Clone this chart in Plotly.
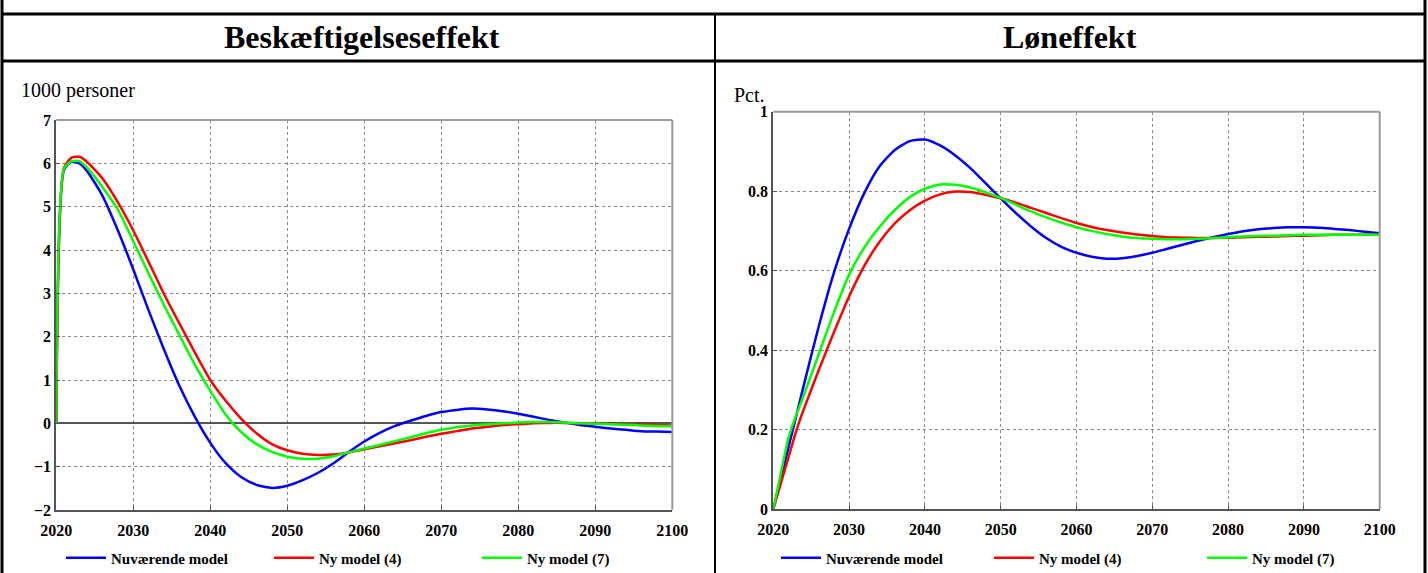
import plotly.graph_objects as go

W, H = 1428, 573

# ---------------- data ----------------
years = [2020, 2021, 2022, 2023, 2024, 2026, 2028, 2030, 2032, 2034, 2036, 2038, 2040,
         2042, 2044, 2046, 2048, 2050, 2052, 2054, 2056, 2058, 2060, 2062, 2064, 2066,
         2068, 2070, 2072, 2074, 2076, 2078, 2080, 2082, 2084, 2086, 2088, 2090, 2092,
         2094, 2096, 2098, 2100]

emp_current = [0, 5.85, 6.04, 6.0, 5.82, 5.25, 4.45, 3.55, 2.6, 1.7, 0.86, 0.15, -0.45,
               -0.92, -1.24, -1.42, -1.49, -1.44, -1.31, -1.14, -0.92, -0.66, -0.42, -0.22, -0.06, 0.06,
               0.17, 0.26, 0.31, 0.34, 0.32, 0.28, 0.22, 0.15, 0.08, 0.02, -0.04, -0.08, -0.12,
               -0.15, -0.18, -0.19, -0.2]
emp_new4 = [0, 5.9, 6.13, 6.15, 6.03, 5.65, 5.1, 4.45, 3.72, 2.98, 2.3, 1.63, 1.0,
            0.52, 0.11, -0.23, -0.48, -0.62, -0.7, -0.73, -0.72, -0.67, -0.6, -0.53, -0.46, -0.39,
            -0.31, -0.24, -0.18, -0.12, -0.08, -0.04, -0.02, 0.0, 0.01, 0.01, 0.0, 0.0, -0.01,
            -0.02, -0.03, -0.04, -0.05]
emp_new7 = [0, 5.88, 6.05, 6.05, 5.9, 5.45, 4.93, 4.2, 3.45, 2.72, 2.03, 1.35, 0.75,
            0.2, -0.2, -0.48, -0.66, -0.77, -0.815, -0.815, -0.76, -0.67, -0.58, -0.5, -0.41, -0.32,
            -0.23, -0.15, -0.09, -0.05, -0.02, 0.0, 0.02, 0.03, 0.03, 0.02, 0.0, -0.01, -0.02,
            -0.03, -0.05, -0.06, -0.07]

wage_current = [0, 0.077, 0.155, 0.232, 0.31, 0.46, 0.595, 0.705, 0.795, 0.862, 0.903, 0.926, 0.93,
                0.915, 0.89, 0.858, 0.82, 0.782, 0.745, 0.711, 0.682, 0.66, 0.645, 0.635, 0.63, 0.631,
                0.637, 0.645, 0.655, 0.665, 0.675, 0.684, 0.692, 0.699, 0.704, 0.707, 0.709, 0.709, 0.708,
                0.705, 0.702, 0.698, 0.694]
wage_new4 = [0, 0.065, 0.13, 0.195, 0.25, 0.35, 0.445, 0.535, 0.612, 0.672, 0.718, 0.752, 0.776,
             0.792, 0.799, 0.798, 0.791, 0.782, 0.771, 0.758, 0.745, 0.732, 0.72, 0.71, 0.702, 0.696,
             0.691, 0.687, 0.684, 0.683, 0.682, 0.682, 0.683, 0.684, 0.685, 0.686, 0.687, 0.688, 0.689,
             0.69, 0.69, 0.69, 0.69]
wage_new7 = [0, 0.09, 0.18, 0.235, 0.285, 0.39, 0.495, 0.59, 0.658, 0.71, 0.752, 0.785, 0.806,
             0.817, 0.816, 0.809, 0.797, 0.783, 0.766, 0.749, 0.734, 0.721, 0.709, 0.7, 0.692, 0.686,
             0.682, 0.68, 0.679, 0.679, 0.68, 0.682, 0.684, 0.686, 0.687, 0.688, 0.689, 0.69, 0.69,
             0.69, 0.69, 0.69, 0.69]

series_names = ["Nuværende model", "Ny model (4)", "Ny model (7)"]
colors = ["#0000FF", "#FF0000", "#00FF00"]
x_ticks = [2020, 2030, 2040, 2050, 2060, 2070, 2080, 2090, 2100]
emp_ticks = [-2, -1, 0, 1, 2, 3, 4, 5, 6, 7]
wage_ticks = [0, 0.2, 0.4, 0.6, 0.8, 1]
wage_tick_text = ["0", "0.2", "0.4", "0.6", "0.8", "1"]

# ---------------- helpers ----------------
def px(x):
    return x / W

def py(y):
    return 1 - y / H

fig = go.Figure()

for name, col, vals in zip(series_names, colors, [emp_current, emp_new4, emp_new7]):
    fig.add_trace(go.Scatter(x=years, y=vals, name=name, mode="lines",
                             line=dict(color=col, width=2.5, shape="spline", smoothing=0.6),
                             xaxis="x", yaxis="y", legend="legend"))
for name, col, vals in zip(series_names, colors, [wage_current, wage_new4, wage_new7]):
    fig.add_trace(go.Scatter(x=years, y=vals, name=name, mode="lines",
                             line=dict(color=col, width=2.5, shape="spline", smoothing=0.6),
                             xaxis="x2", yaxis="y2", legend="legend2"))

tickfont = dict(family="Liberation Serif", size=16, color="black", weight="bold")
grid = dict(showgrid=True, gridcolor="#8a8a8a", griddash="dot", gridwidth=1)
axline = dict(showline=True, linecolor="#555555", linewidth=2,
              ticks="inside", ticklen=4, tickcolor="#555555", tickwidth=1)

xcommon = dict(range=[2020, 2100], tickvals=x_ticks, tickfont=tickfont,
               zeroline=False, ticklabelstandoff=5, **grid, **axline)

legfont = dict(family="Liberation Serif", size=15, color="black", weight="bold")

fig.update_layout(
    width=W, height=H,
    margin=dict(l=0, r=0, t=0, b=0, autoexpand=False),
    paper_bgcolor="white", plot_bgcolor="white",
    showlegend=True,
    xaxis=dict(domain=[px(56.3), px(672.3)], anchor="y", **xcommon),
    yaxis=dict(domain=[py(510), py(120)], anchor="x", range=[-2, 7], tickvals=emp_ticks,
               tickfont=tickfont, zeroline=True, zerolinecolor="#555555", zerolinewidth=1.5,
               **grid, **axline),
    xaxis2=dict(domain=[px(773.3), px(1379.7)], anchor="y2", **xcommon),
    yaxis2=dict(domain=[py(509), py(111.7)], anchor="x2", range=[0, 1], tickvals=wage_ticks,
                ticktext=wage_tick_text, tickfont=tickfont, zeroline=False, **grid, **axline),
    legend=dict(orientation="h", x=px(61), y=py(558), xanchor="left", yanchor="middle",
                entrywidth=153, entrywidthmode="pixels", bgcolor="rgba(0,0,0,0)",
                font=legfont, itemwidth=40, tracegroupgap=0),
    legend2=dict(orientation="h", x=px(776), y=py(558), xanchor="left", yanchor="middle",
                 entrywidth=158, entrywidthmode="pixels", bgcolor="rgba(0,0,0,0)",
                 font=legfont, itemwidth=40, tracegroupgap=0),
)

# top / right frame of each plot (lighter grey)
for xr, yr in [("x domain", "y domain"), ("x2 domain", "y2 domain")]:
    fig.add_shape(type="line", xref=xr, yref=yr, x0=0, x1=1, y0=1, y1=1,
                  line=dict(color="#9a9a9a", width=2))
    fig.add_shape(type="line", xref=xr, yref=yr, x0=1, x1=1, y0=0, y1=1,
                  line=dict(color="#9a9a9a", width=2))

# table frame
frame = dict(color="black", width=3)
fig.add_shape(type="line", xref="paper", yref="paper", x0=px(2), x1=px(2), y0=0, y1=1, line=frame)
fig.add_shape(type="line", xref="paper", yref="paper", x0=px(1425), x1=px(1425), y0=0, y1=1, line=frame)
fig.add_shape(type="line", xref="paper", yref="paper", x0=px(2), x1=px(1425), y0=py(14), y1=py(14), line=frame)
fig.add_shape(type="line", xref="paper", yref="paper", x0=px(2), x1=px(1425), y0=py(61), y1=py(61), line=frame)
fig.add_shape(type="line", xref="paper", yref="paper", x0=px(715), x1=px(715), y0=0, y1=py(14),
              line=dict(color="black", width=2))

# headers
hfont = dict(family="Liberation Serif", size=32, color="black", weight="bold")
fig.add_annotation(text="Beskæftigelseseffekt", x=px(362), y=py(37), xref="paper", yref="paper",
                   showarrow=False, font=hfont, xanchor="center", yanchor="middle")
fig.add_annotation(text="Løneffekt", x=px(1070), y=py(37), xref="paper", yref="paper",
                   showarrow=False, font=hfont, xanchor="center", yanchor="middle")

# unit labels
ufont = dict(family="Liberation Serif", size=20, color="black")
fig.add_annotation(text="1000 personer", x=px(19), y=py(90), xref="paper", yref="paper",
                   showarrow=False, font=ufont, xanchor="left", yanchor="middle")
fig.add_annotation(text="Pct.", x=px(732), y=py(95), xref="paper", yref="paper",
                   showarrow=False, font=ufont, xanchor="left", yanchor="middle")

fig.write_html("out.html",
               config={"displayModeBar": False},
               post_script="document.body.style.margin='0';document.body.style.overflow='hidden';")
